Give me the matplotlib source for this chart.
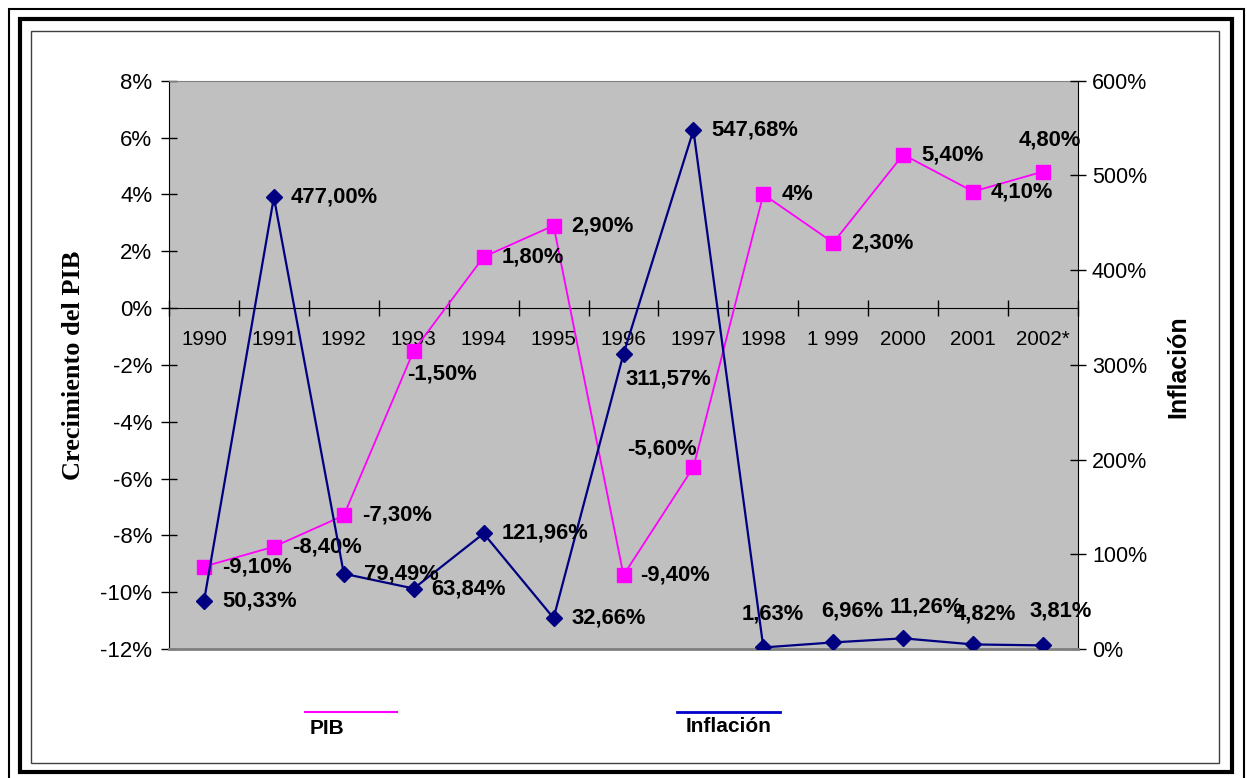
import numpy as np
import matplotlib
matplotlib.use('Agg')
import matplotlib.pyplot as plt
from matplotlib.patches import Rectangle
from matplotlib.lines import Line2D

# data
years = ['1990', '1991', '1992', '1993', '1994', '1995', '1996',
         '1997', '1998', '1 999', '2000', '2001', '2002*']
pib = [-9.10, -8.40, -7.30, -1.50, 1.80, 2.90, -9.40,
       -5.60, 4.00, 2.30, 5.40, 4.10, 4.80]
pib_labels = ['-9,10%', '-8,40%', '-7,30%', '-1,50%', '1,80%', '2,90%', '-9,40%',
              '-5,60%', '4%', '2,30%', '5,40%', '4,10%', '4,80%']
inflacion = [50.33, 477.00, 79.49, 63.84, 121.96, 32.66, 311.57,
             547.68, 1.63, 6.96, 11.26, 4.82, 3.81]
inf_labels = ['50,33%', '477,00%', '79,49%', '63,84%', '121,96%', '32,66%', '311,57%',
              '547,68%', '1,63%', '6,96%', '11,26%', '4,82%', '3,81%']

# label offsets in pixels (left edge of text, relative to marker)
pib_off = [(18, 0), (18, 0), (18, 0), (-7, -23), (18, 0), (18, 0), (17, 0),
           (-66, 18), (18, 0), (18, 0), (18, 0), (18, 0), (-24, 32)]
inf_off = [(18, 0), (17, 0), (20, 0), (18, 0), (18, 0), (18, 0), (2, -25),
           (18, 0), (-22, 33), (-12, 31), (-14, 31), (-19, 30), (-14, 34)]

plt.rcParams['font.family'] = ['Liberation Sans', 'DejaVu Sans']

W, H = 1247, 778
fig = plt.figure(figsize=(W / 100, H / 100), dpi=100)


def px_rect(x0, y0, x1, y1):
    # pixel box (y down) -> figure fraction
    return (x0 / W, 1 - y1 / H, (x1 - x0) / W, (y1 - y0) / H)


# frames around the chart
for (x0, y0, x1, y1), lw, col in [((8.5, 8.5, 1244, 781), 1.5, 'black'),
                                  ((20, 19, 1232, 772), 3.0, 'black'),
                                  ((31, 31, 1219, 763), 1.0, '#404040')]:
    l, b, w, h = px_rect(x0, y0, x1, y1)
    fig.add_artist(Rectangle((l, b), w, h, transform=fig.transFigure,
                             fill=False, lw=lw, edgecolor=col))

ax = fig.add_axes(px_rect(169, 80.7, 1078, 649))
ax2 = ax.twinx()

x = np.arange(len(years))
ax.set_facecolor('#C0C0C0')
ax.set_xlim(-0.5, len(years) - 0.5)
ax.set_ylim(-12, 8)
ax2.set_ylim(0, 600)

ax.plot(x, pib, color='#FF00FF', lw=1.3, marker='s', markersize=9.5,
        markeredgecolor='#FF00FF', zorder=3)
ax2.plot(x, inflacion, color='#000080', lw=1.6, marker='D', markersize=8.5,
         markeredgecolor='#000080', zorder=3)

for xi, v, t, (dx, dy) in zip(x, pib, pib_labels, pib_off):
    ax.annotate(t, (xi, v), xytext=(dx, dy), textcoords='offset pixels',
                ha='left', va='center', fontsize=15.8, fontweight='bold', zorder=4)
for xi, v, t, (dx, dy) in zip(x, inflacion, inf_labels, inf_off):
    ax2.annotate(t, (xi, v), xytext=(dx, dy), textcoords='offset pixels',
                 ha='left', va='center', fontsize=15.8, fontweight='bold', zorder=4)

# left axis
ax.set_yticks(np.arange(-12, 9, 2))
ax.set_yticklabels(['{}%'.format(v) for v in range(-12, 9, 2)])
ax.tick_params(axis='y', direction='inout', length=12, width=1, labelsize=16, pad=6)

# category axis on the zero line
ax.spines['bottom'].set_position(('data', 0))
ax.set_xticks(np.arange(-0.5, len(years), 1.0))
ax.set_xticklabels([])
ax.set_xticks(x, minor=True)
ax.set_xticklabels(years, minor=True)
ax.tick_params(axis='x', which='major', direction='inout', length=12, width=1)
ax.tick_params(axis='x', which='minor', length=0, labelsize=14.8, pad=16)
ax.spines['top'].set_color('#808080')
ax.spines['right'].set_visible(False)

# right axis
ax2.set_yticks(np.arange(0, 601, 100))
ax2.set_yticklabels(['{}%'.format(v) for v in range(0, 601, 100)])
ax2.tick_params(axis='y', direction='inout', length=12, width=1, labelsize=15.5, pad=4)
ax2.spines['left'].set_visible(False)
ax2.spines['top'].set_visible(False)
ax2.spines['bottom'].set_color('#808080')
ax2.spines['bottom'].set_linewidth(2)

fig.text(73 / W, 1 - 365 / H, 'Crecimiento del PIB', rotation=90, ha='center', va='center',
         fontsize=19, fontweight='bold', family=['Liberation Serif', 'DejaVu Serif'])
fig.text(1178 / W, 1 - 367 / H, 'Inflación', rotation=90, ha='center', va='center',
         fontsize=18, fontweight='bold')

# legend drawn by hand
fig.add_artist(Line2D([305 / W, 397 / W], [1 - 712 / H] * 2, color='#FF00FF', lw=1.5,
                      transform=fig.transFigure))
fig.add_artist(Line2D([677 / W, 780 / W], [1 - 712 / H] * 2, color='#0000CC', lw=2,
                      transform=fig.transFigure))
fig.text(327 / W, 1 - 728 / H, 'PIB', ha='center', va='center', fontsize=15, fontweight='bold')
fig.text(729 / W, 1 - 727 / H, 'Inflación', ha='center', va='center', fontsize=15,
         fontweight='bold')

fig.savefig('out.png', dpi=100)
